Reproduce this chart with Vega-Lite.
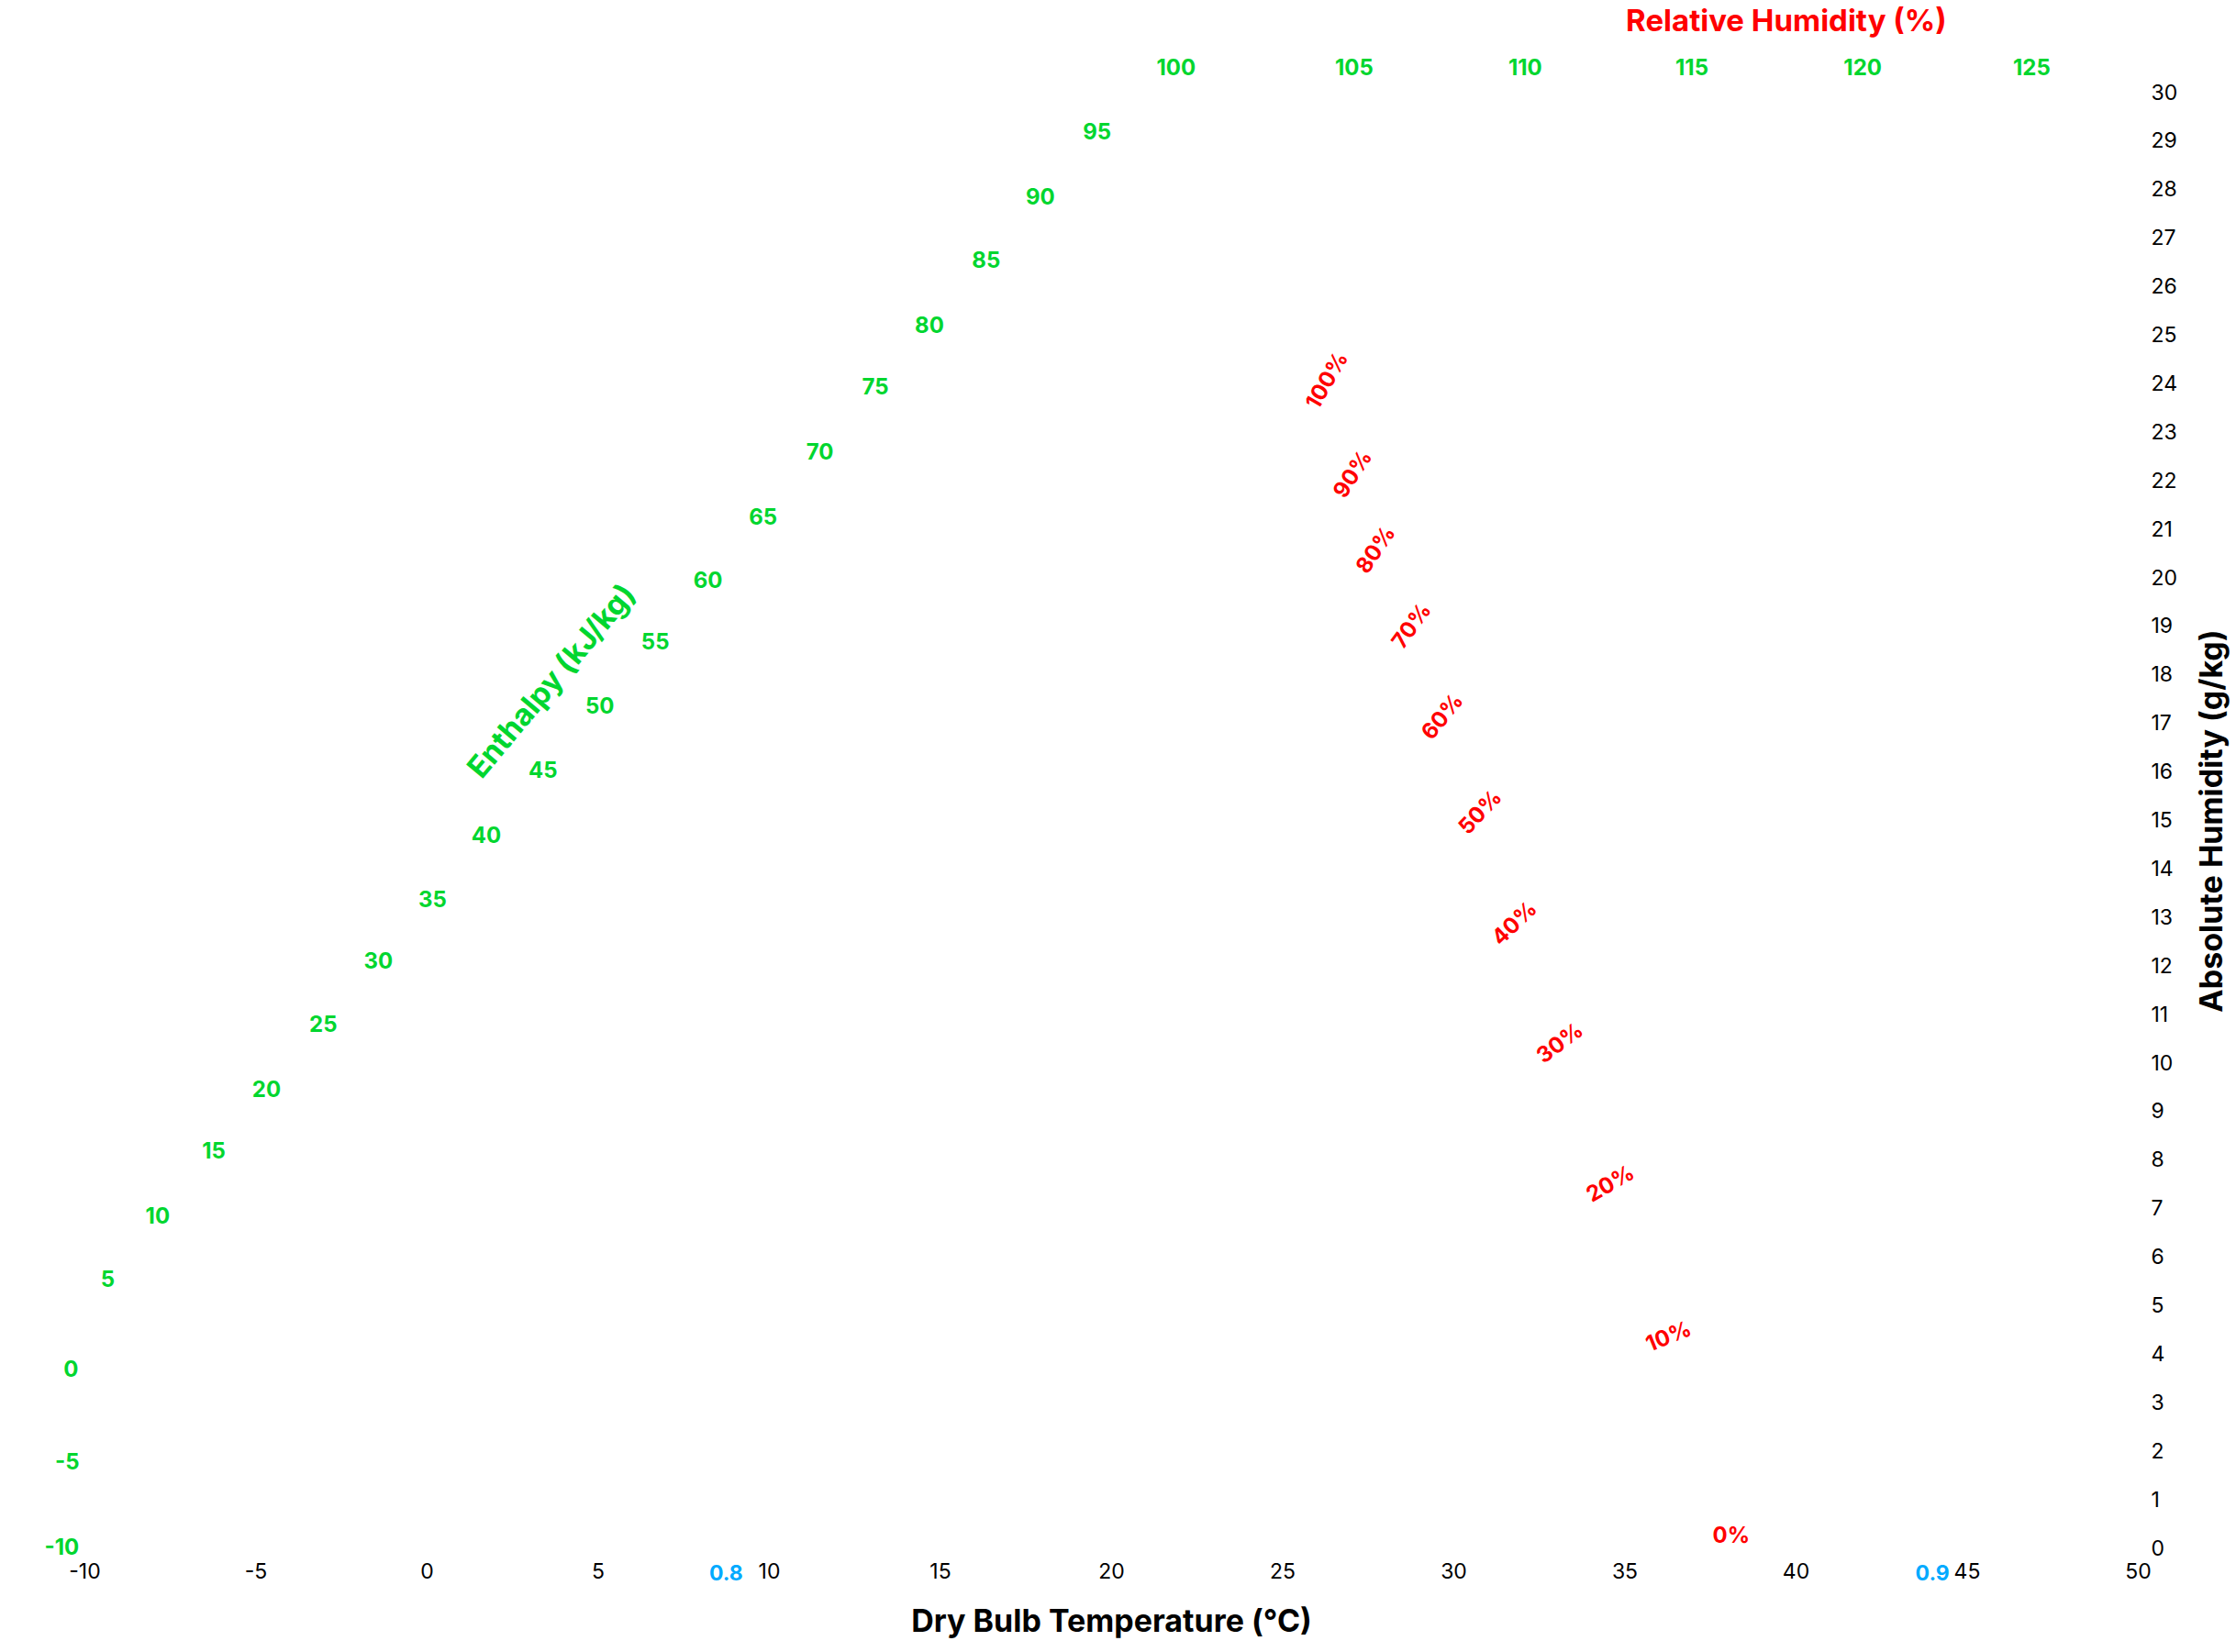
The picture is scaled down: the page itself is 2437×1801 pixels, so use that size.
{
  "$schema": "https://vega.github.io/schema/vega-lite/v6.json",
  "width": 2238,
  "height": 1587,
  "autosize": {"type": "none"},
  "padding": {"left": 92, "top": 101, "right": 107, "bottom": 113},
  "background": "white",
  "config": {
    "view": {"stroke": null},
    "font": "Inter",
    "text": {"font": "Inter"},
    "axis": {"labelFont": "Inter", "titleFont": "Inter"}
  },
  "datasets": {
    "enthalpy": [
      {"h": "-10", "T": -10.66, "W": 0.0},
      {"h": "-5", "T": -10.5, "W": 1.76},
      {"h": "0", "T": -10.39, "W": 3.67},
      {"h": "5", "T": -9.32, "W": 5.52},
      {"h": "10", "T": -7.86, "W": 6.83},
      {"h": "15", "T": -6.22, "W": 8.17},
      {"h": "20", "T": -4.68, "W": 9.43},
      {"h": "25", "T": -3.02, "W": 10.78},
      {"h": "30", "T": -1.41, "W": 12.08},
      {"h": "35", "T": 0.17, "W": 13.34},
      {"h": "40", "T": 1.74, "W": 14.67},
      {"h": "45", "T": 3.4, "W": 16.01},
      {"h": "50", "T": 5.06, "W": 17.34},
      {"h": "55", "T": 6.68, "W": 18.66},
      {"h": "60", "T": 8.22, "W": 19.92},
      {"h": "65", "T": 9.83, "W": 21.22},
      {"h": "70", "T": 11.49, "W": 22.57},
      {"h": "75", "T": 13.11, "W": 23.92},
      {"h": "80", "T": 14.69, "W": 25.18},
      {"h": "85", "T": 16.35, "W": 26.53},
      {"h": "90", "T": 17.93, "W": 27.82},
      {"h": "95", "T": 19.59, "W": 29.17},
      {"h": "100", "T": 21.9, "W": 30.49},
      {"h": "105", "T": 27.1, "W": 30.49},
      {"h": "110", "T": 32.1, "W": 30.49},
      {"h": "115", "T": 36.97, "W": 30.49},
      {"h": "120", "T": 41.96, "W": 30.49},
      {"h": "125", "T": 46.9, "W": 30.49}
    ],
    "rh": [
      {"label": "100%", "T": 26.33, "W": 24.06, "slope": 60},
      {"label": "90%", "T": 27.08, "W": 22.13, "slope": 57},
      {"label": "80%", "T": 27.75, "W": 20.57, "slope": 56},
      {"label": "70%", "T": 28.8, "W": 19.0, "slope": 54},
      {"label": "60%", "T": 29.7, "W": 17.13, "slope": 51},
      {"label": "50%", "T": 30.8, "W": 15.16, "slope": 47},
      {"label": "40%", "T": 31.8, "W": 12.87, "slope": 44},
      {"label": "30%", "T": 33.13, "W": 10.4, "slope": 37},
      {"label": "20%", "T": 34.6, "W": 7.5, "slope": 30},
      {"label": "10%", "T": 36.3, "W": 4.35, "slope": 22},
      {"label": "0%", "T": 38.12, "W": 0.25, "slope": 0}
    ],
    "volume": [
      {"v": "0.8", "T": 8.75, "W": -0.53},
      {"v": "0.9", "T": 44.0, "W": -0.53}
    ],
    "titles": [
      {"text": "Relative Humidity (%)", "T": 39.73, "W": 31.45, "kind": "rh"},
      {"text": "Enthalpy (kJ/kg)", "T": 3.67, "W": 17.86, "kind": "h"}
    ]
  },
  "layer": [
    {
      "data": {"name": "enthalpy"},
      "mark": {"type": "text", "fontWeight": "bold", "fontSize": 24, "color": "#00d62f", "align": "center", "baseline": "middle"},
      "encoding": {
        "x": {
          "field": "T", "type": "quantitative",
          "scale": {"domain": [-10, 50], "nice": false, "zero": false},
          "axis": {
            "title": "Dry Bulb Temperature (°C)",
            "values": [-10, -5, 0, 5, 10, 15, 20, 25, 30, 35, 40, 45, 50],
            "labelExpr": "toString(datum.value)",
            "grid": false, "domain": false, "ticks": false,
            "labelFontSize": 23, "labelColor": "#000000", "labelPadding": 14,
            "labelFlush": false, "labelOverlap": false,
            "titleFontSize": 34, "titleFontWeight": "bold", "titleColor": "#000000", "titlePadding": 26
          }
        },
        "y": {
          "field": "W", "type": "quantitative",
          "scale": {"domain": [0, 30], "nice": false, "zero": false},
          "axis": {
            "orient": "right",
            "title": "Absolute Humidity (g/kg)",
            "values": [0, 1, 2, 3, 4, 5, 6, 7, 8, 9, 10, 11, 12, 13, 14, 15, 16, 17, 18, 19, 20, 21, 22, 23, 24, 25, 26, 27, 28, 29, 30],
            "grid": false, "domain": false, "ticks": false,
            "labelFontSize": 23, "labelColor": "#000000", "labelPadding": 14,
            "labelFlush": false, "labelOverlap": false,
            "titleFontSize": 34, "titleFontWeight": "bold", "titleColor": "#000000", "titlePadding": 56,
            "titleAngle": 270
          }
        },
        "text": {"field": "h", "type": "nominal"}
      }
    },
    {
      "data": {"name": "rh"},
      "mark": {"type": "text", "fontWeight": "bold", "fontSize": 24, "color": "#ff0000", "align": "center", "baseline": "middle"},
      "encoding": {
        "x": {"field": "T", "type": "quantitative"},
        "y": {"field": "W", "type": "quantitative"},
        "angle": {"field": "slope", "type": "quantitative", "scale": {"domain": [0, 90], "range": [360, 270]}, "legend": null},
        "text": {"field": "label", "type": "nominal"}
      }
    },
    {
      "data": {"name": "volume"},
      "mark": {"type": "text", "fontWeight": "bold", "fontSize": 23, "color": "#00aaff", "align": "center", "baseline": "middle"},
      "encoding": {
        "x": {"field": "T", "type": "quantitative"},
        "y": {"field": "W", "type": "quantitative"},
        "text": {"field": "v", "type": "nominal"}
      }
    },
    {
      "data": {"name": "titles"},
      "transform": [{"filter": "datum.kind === 'rh'"}],
      "mark": {"type": "text", "fontWeight": "bold", "fontSize": 33, "color": "#ff0000", "align": "center", "baseline": "middle"},
      "encoding": {
        "x": {"field": "T", "type": "quantitative"},
        "y": {"field": "W", "type": "quantitative"},
        "text": {"field": "text", "type": "nominal"}
      }
    },
    {
      "data": {"name": "titles"},
      "transform": [{"filter": "datum.kind === 'h'"}],
      "mark": {"type": "text", "fontWeight": "bold", "fontSize": 33, "color": "#00d62f", "align": "center", "baseline": "middle", "angle": 310},
      "encoding": {
        "x": {"field": "T", "type": "quantitative"},
        "y": {"field": "W", "type": "quantitative"},
        "text": {"field": "text", "type": "nominal"}
      }
    }
  ]
}
